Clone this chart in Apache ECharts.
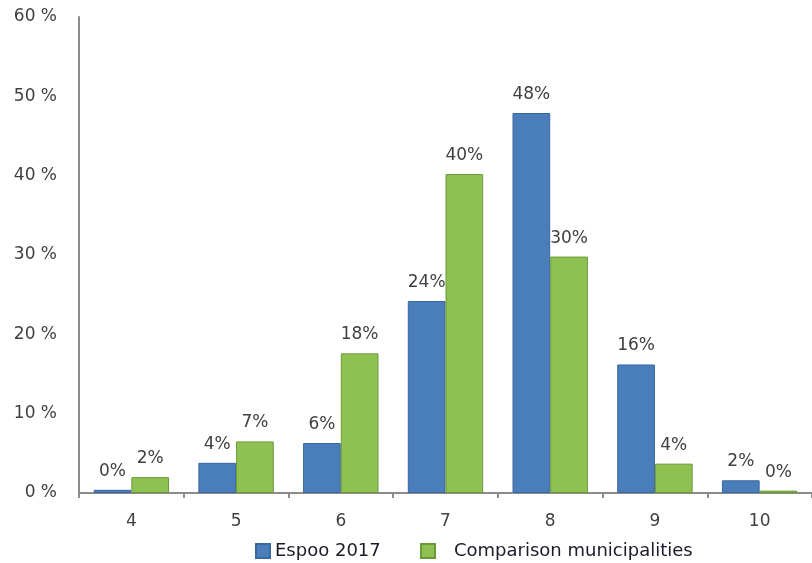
<!DOCTYPE html>
<html style="height: 100%">
<head>
  <meta charset="utf-8">
  <title>Espoo 2017</title>
  <script src="https://cdn.jsdelivr.net/npm/echarts@6/dist/echarts.min.js"></script>
</head>
<body style="height: 100%; margin: 0; background: #fff">
<div id="main" style="width: 812px; height: 563px;"></div>
<script type="text/javascript">
  var categories = ['4', '5', '6', '7', '8', '9', '10'];
  var espoo = [0.4, 3.8, 6.3, 24.2, 47.9, 16.2, 1.6];
  var comparison = [2.0, 6.5, 17.6, 40.2, 29.8, 3.7, 0.3];
  var yTicks = [0, 10, 20, 30, 40, 50, 60];

  var font = 'DejaVu Sans';
  var dom = document.getElementById('main');
  var myChart = echarts.init(dom);

  // labels are rounded like in the original
  var pctLabel = {
    show: true,
    position: 'top',
    distance: 10,
    fontFamily: font,
    fontSize: 17,
    color: '#404040',
    formatter: function (p) { return Math.round(p.value) + '%'; }
  };

  var option = {
    animation: false,
    grid: { left: 79, right: -8, top: 17, bottom: 70 },
    legend: [
      {
        data: ['Espoo 2017'],
        left: 255, top: 542,
        padding: 0,
        itemWidth: 14, itemHeight: 14,
        icon: 'rect',
        textStyle: { fontFamily: font, fontSize: 18, color: '#1b1b2b' }
      },
      {
        data: ['Comparison municipalities'],
        left: 420, top: 542,
        padding: 0,
        itemWidth: 14, itemHeight: 14,
        icon: 'rect',
        textStyle: { fontFamily: font, fontSize: 18, color: '#1b1b2b', padding: [0, 0, 0, 14] }
      }
    ],
    xAxis: {
      type: 'category',
      data: categories,
      axisLine: { lineStyle: { color: '#8c8c8c', width: 2 } },
      axisTick: { show: true, length: 5, lineStyle: { color: '#8c8c8c', width: 2 } },
      axisLabel: { fontFamily: font, fontSize: 17, color: '#404040', margin: 20 }
    },
    yAxis: {
      type: 'value',
      min: yTicks[0],
      max: yTicks[yTicks.length - 1],
      interval: 10,
      axisLine: { show: true, lineStyle: { color: '#8c8c8c', width: 2 } },
      axisTick: { show: false },
      splitLine: { show: false },
      axisLabel: {
        fontFamily: font, fontSize: 17, color: '#404040', margin: 22,
        formatter: '{value} %'
      }
    },
    series: [
      {
        name: 'Espoo 2017',
        type: 'bar',
        data: espoo,
        barGap: '0%',
        barCategoryGap: '28%',
        itemStyle: { color: '#4a7ebb', borderColor: '#3a67a0', borderWidth: 1 },
        label: pctLabel
      },
      {
        name: 'Comparison municipalities',
        type: 'bar',
        data: comparison,
        itemStyle: { color: '#8fc052', borderColor: '#6b9a38', borderWidth: 1 },
        label: pctLabel
      }
    ]
  };
  myChart.setOption(option, true);
</script>
</body>
</html>
